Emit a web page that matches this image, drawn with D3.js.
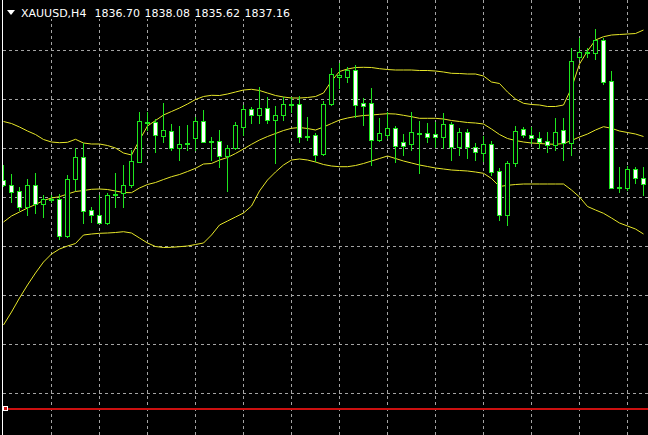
<!DOCTYPE html>
<html><head><meta charset="utf-8">
<script src="https://cdn.jsdelivr.net/npm/d3@7"></script>
<style>html,body{margin:0;padding:0;background:#000;overflow:hidden}</style>
</head><body><svg id="c" width="648" height="435"></svg>
<script>
// ---- data ----
const symbol = "XAUUSD,H4";
const headerValues = ["1836.70", "1838.08", "1835.62", "1837.16"];

const open = [1837.00,1836.47,1835.93,1834.33,1836.47,1834.60,1835.03,1835.07,1831.40,1837.07,
1839.27,1834.00,1833.50,1832.75,1835.55,1835.67,1836.50,1838.83,1842.73,1842.77,
1841.43,1841.93,1840.17,1840.63,1841.17,1842.93,1840.83,1840.90,1839.43,1840.17,
1842.33,1844.07,1843.50,1844.17,1843.00,1843.50,1844.57,1844.60,1841.37,1841.50,
1839.57,1844.57,1847.33,1847.33,1848.00,1844.67,1844.73,1841.00,1841.50,1842.17,
1840.77,1840.63,1841.70,1841.67,1841.60,1841.33,1842.60,1840.33,1841.83,1840.27,
1839.73,1840.60,1837.93,1833.50,1838.67,1842.07,1841.50,1841.17,1840.90,1840.50,
1842.00,1840.67,1849.33,1849.73,1849.67,1851.00,1846.90,1836.23,1836.17,1838.07,
1837.17];
const high = [1838.50,1837.60,1836.27,1837.07,1837.73,1835.50,1835.50,1835.60,1837.50,1840.17,
1840.73,1834.33,1835.50,1835.70,1837.73,1838.50,1840.05,1843.85,1843.83,1843.07,
1844.67,1842.60,1842.43,1842.50,1843.33,1844.00,1841.30,1842.00,1840.50,1842.83,
1844.50,1844.33,1846.27,1845.27,1844.40,1845.27,1845.27,1845.40,1843.33,1841.67,
1844.90,1848.17,1848.67,1848.33,1848.50,1845.23,1846.23,1843.23,1843.83,1842.43,
1841.57,1843.80,1842.90,1842.73,1842.83,1843.67,1842.83,1842.17,1842.07,1840.67,
1841.40,1840.93,1838.17,1838.93,1842.40,1842.33,1842.33,1841.83,1841.83,1843.17,
1843.17,1850.17,1851.17,1850.17,1852.07,1851.17,1847.93,1838.33,1838.40,1838.33,
1838.33];
const low = [1836.40,1834.83,1834.00,1833.50,1833.67,1833.33,1834.83,1831.07,1831.33,1836.00,
1832.67,1832.83,1832.67,1832.60,1834.27,1834.30,1836.35,1838.80,1842.00,1839.83,
1840.83,1840.00,1839.00,1840.00,1840.00,1840.83,1839.00,1838.33,1835.93,1840.07,
1841.50,1842.73,1842.67,1842.73,1838.67,1843.00,1843.83,1840.83,1841.00,1838.90,
1839.50,1844.50,1846.17,1846.83,1843.33,1842.50,1838.50,1840.90,1841.23,1838.83,
1839.50,1840.00,1837.70,1840.83,1840.33,1840.17,1839.00,1839.50,1839.17,1839.00,
1838.93,1837.50,1833.00,1832.50,1838.40,1841.27,1840.67,1840.17,1839.83,1840.00,
1839.00,1839.50,1849.07,1849.33,1849.07,1846.60,1836.17,1835.83,1836.00,1836.67,
1835.50];
const close = [1836.47,1835.83,1834.33,1836.47,1834.60,1835.07,1835.10,1831.40,1837.07,1839.27,
1833.93,1833.50,1832.73,1835.55,1835.60,1836.55,1838.87,1842.90,1842.80,1841.50,
1842.00,1840.17,1840.60,1840.70,1842.93,1840.83,1840.90,1839.43,1840.17,1842.50,
1844.07,1843.50,1844.17,1843.00,1843.50,1844.60,1844.63,1841.33,1841.43,1839.55,
1844.57,1847.57,1847.55,1848.00,1844.50,1844.43,1841.00,1841.67,1842.17,1840.43,
1840.43,1841.77,1841.75,1841.33,1841.33,1842.60,1840.33,1841.83,1840.27,1839.83,
1840.60,1837.83,1833.50,1838.67,1841.93,1841.50,1841.17,1840.83,1840.50,1841.83,
1840.67,1848.90,1849.77,1849.80,1851.00,1846.83,1836.17,1836.30,1838.07,1837.17,
1836.57];

const bbUpper = [1842.85,1842.65,1842.30,1841.90,1841.55,1841.05,1840.80,1840.73,1840.77,1841.07,
1840.70,1840.60,1840.60,1840.45,1840.20,1839.70,1839.50,1841.00,1842.40,1842.95,
1843.50,1843.85,1844.20,1844.60,1845.05,1845.35,1845.47,1845.45,1845.60,1845.80,
1846.00,1846.07,1845.95,1845.70,1845.45,1845.30,1845.20,1845.20,1845.25,1845.35,
1845.70,1846.90,1847.85,1848.10,1848.25,1848.27,1848.25,1848.13,1848.05,1848.00,
1848.00,1848.00,1847.95,1847.95,1847.90,1847.80,1847.67,1847.65,1847.60,1847.60,
1847.40,1846.80,1846.65,1845.80,1845.10,1844.67,1844.55,1844.50,1844.35,1844.35,
1844.50,1846.20,1848.60,1849.90,1851.00,1851.33,1851.50,1851.55,1851.60,1851.65,
1852.00];
const bbMiddle = [1832.80,1833.40,1833.80,1834.20,1834.55,1834.95,1835.20,1835.33,1835.60,1835.85,
1835.95,1836.07,1836.10,1836.05,1835.90,1835.75,1835.73,1836.20,1836.55,1836.75,
1837.05,1837.33,1837.55,1837.85,1838.17,1838.60,1838.65,1839.00,1839.25,1839.65,
1840.10,1840.57,1841.00,1841.35,1841.65,1841.95,1842.17,1842.25,1842.15,1842.00,
1842.30,1842.65,1843.00,1843.20,1843.35,1843.45,1843.50,1843.57,1843.63,1843.60,
1843.47,1843.33,1843.17,1843.17,1843.17,1843.10,1842.95,1842.85,1842.75,1842.70,
1842.60,1842.10,1841.55,1841.15,1840.95,1840.80,1840.70,1840.65,1840.60,1840.57,
1840.65,1840.95,1841.30,1841.60,1842.00,1842.33,1842.17,1841.90,1841.75,1841.60,
1841.35];
const bbLower = [1822.50,1823.80,1825.20,1826.50,1827.70,1828.80,1829.60,1830.10,1830.40,1830.65,
1831.50,1831.60,1831.67,1831.70,1831.75,1831.83,1831.70,1831.20,1830.70,1830.35,
1830.25,1830.27,1830.33,1830.40,1830.55,1830.70,1831.50,1832.50,1832.90,1833.30,
1833.70,1834.40,1835.90,1837.00,1837.80,1838.50,1839.00,1839.10,1839.00,1838.80,
1838.55,1838.40,1838.33,1838.33,1838.45,1838.65,1838.90,1839.15,1839.40,1839.15,
1838.90,1838.70,1838.50,1838.35,1838.20,1838.10,1838.00,1837.95,1837.90,1837.80,
1837.67,1837.15,1836.35,1836.47,1836.55,1836.60,1836.60,1836.60,1836.60,1836.60,
1836.60,1836.00,1835.30,1834.35,1834.00,1833.67,1833.20,1832.70,1832.40,1832.10,
1831.60];

const gridPrices = [1849.97, 1845.08, 1840.18, 1835.29, 1830.39, 1825.50, 1820.60, 1815.71];
const dayStartBars = [6, 12, 18, 24, 30, 36, 42, 48, 54, 60, 66, 72, 78];
const hLinePrice = 1814.10;

// ---- drawing ----
const W = 648, H = 435;
const n = open.length;
const x = d3.scaleLinear().domain([0, n - 1]).range([3.5, 643.5]);
const y = d3.scaleLinear().domain([1811.5, 1855]).range([H, 0]);
const py = v => Math.round(y(v)) + 0.5;

const svg = d3.select("#c");
svg.append("rect").attr("width", W).attr("height", H).attr("fill", "#000");
svg.append("defs").append("clipPath").attr("id", "clip")
  .append("rect").attr("x", 3).attr("y", 0).attr("width", W - 3).attr("height", H);
const g = svg.append("g").attr("clip-path", "url(#clip)");

const gridColor = "#a4a4a4";
g.append("g").selectAll("line").data(gridPrices).join("line")
  .attr("x1", 3).attr("x2", W).attr("y1", py).attr("y2", py)
  .attr("stroke", gridColor).attr("stroke-width", 1).attr("stroke-dasharray", "3,3")
  .attr("shape-rendering", "crispEdges");
g.append("g").selectAll("line").data(dayStartBars).join("line")
  .attr("x1", d => x(d)).attr("x2", d => x(d)).attr("y1", 0).attr("y2", H)
  .attr("stroke", gridColor).attr("stroke-width", 1).attr("stroke-dasharray", "3,3")
  .attr("shape-rendering", "crispEdges");

// Bollinger bands
const bandColor = "#e6e628";
[bbUpper, bbMiddle, bbLower].forEach(arr => {
  g.append("path")
    .attr("d", d3.line().x((d, i) => x(i)).y(d => y(d))(arr))
    .attr("fill", "none").attr("stroke", bandColor).attr("stroke-width", 1);
});

// candles
const candleColor = "#1ee61e";
const idx = d3.range(n);
const cg = g.append("g").attr("shape-rendering", "crispEdges");
cg.selectAll("line").data(idx).join("line")
  .attr("x1", i => x(i)).attr("x2", i => x(i))
  .attr("y1", i => Math.round(y(high[i]))).attr("y2", i => Math.round(y(low[i])) + 1)
  .attr("stroke", candleColor).attr("stroke-width", 1);
cg.selectAll("rect").data(idx).join("rect")
  .attr("x", i => x(i) - 2).attr("width", 4)
  .attr("y", i => py(Math.max(open[i], close[i])))
  .attr("height", i => Math.max(1, py(Math.min(open[i], close[i])) - py(Math.max(open[i], close[i]))))
  .attr("fill", i => close[i] >= open[i] ? "#000" : "#fff")
  .attr("stroke", candleColor).attr("stroke-width", 1);

// horizontal line object
const hy = Math.round(y(hLinePrice));
g.append("line").attr("x1", 3).attr("x2", W).attr("y1", hy).attr("y2", hy)
  .attr("stroke", "#cc1010").attr("stroke-width", 2).attr("shape-rendering", "crispEdges");
svg.append("rect").attr("x", 3.5).attr("y", hy - 2.5).attr("width", 4).attr("height", 4)
  .attr("fill", "#cc1010").attr("stroke", "#fff").attr("stroke-width", 1);

// left border
svg.append("line").attr("x1", 2.5).attr("x2", 2.5).attr("y1", 0).attr("y2", H)
  .attr("stroke", "#fff").attr("stroke-width", 1);

// header
svg.append("rect").attr("x", 3).attr("y", 0).attr("width", 290).attr("height", 19).attr("fill", "#000");
svg.append("path").attr("d", "M7,10 L15,10 L11,15 Z").attr("fill", "#fff");
const font = "'DejaVu Sans', sans-serif";
svg.append("text").attr("x", 21).attr("y", 17).attr("fill", "#fff")
  .attr("font-family", font).attr("font-size", 11).text(symbol);
svg.append("g").selectAll("text").data(headerValues).join("text")
  .attr("x", (d, i) => 94.5 + i * 50).attr("y", 17).attr("fill", "#fff")
  .attr("font-family", font).attr("font-size", 11).text(d => d);
</script>
</body></html>
